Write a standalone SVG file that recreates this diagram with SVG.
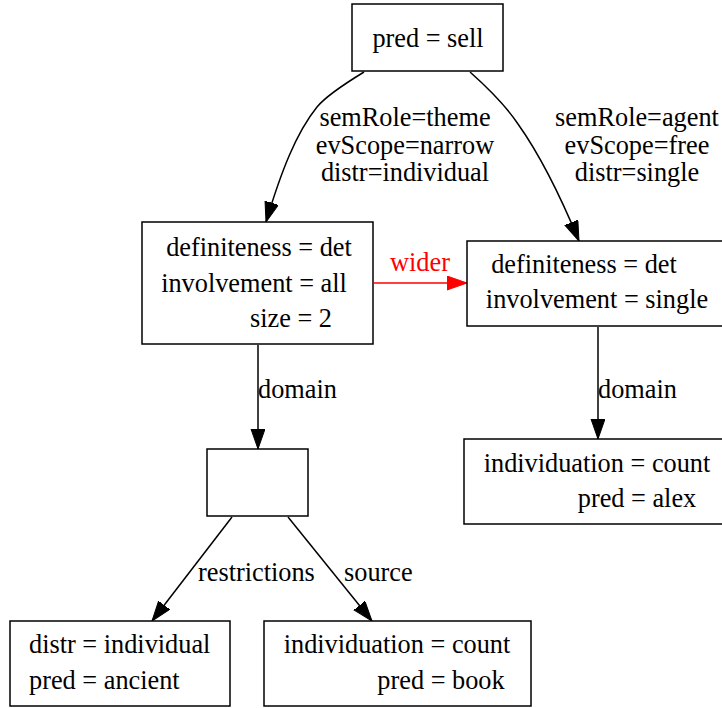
<svg xmlns="http://www.w3.org/2000/svg" width="722" height="708" viewBox="0 0 722 708">
  <style>
    text { font-family: "Liberation Serif", "Times New Roman", serif; font-size: 26.3px; fill: #000; }
    .box { fill: #fff; stroke: #000; stroke-width: 1.5; }
    .edge { fill: none; stroke: #000; stroke-width: 1.5; }
    .red { stroke: #f00; }
    text.lbl-red { fill: #f00; }
    .mid { text-anchor: middle; }
  </style>
  <defs>
    <marker id="arrow" markerUnits="userSpaceOnUse" markerWidth="22" markerHeight="16" refX="20" refY="7" orient="auto">
      <path d="M0,0 L20,7 L0,14 z" fill="#000" stroke="#000" stroke-width="1"/>
    </marker>
    <marker id="arrow-red" markerUnits="userSpaceOnUse" markerWidth="22" markerHeight="16" refX="20" refY="7" orient="auto">
      <path d="M0,0 L20,7 L0,14 z" fill="#f00" stroke="#f00" stroke-width="1"/>
    </marker>
  </defs>
  <rect width="722" height="708" fill="#fff"/>

  <!-- connectors -->
  <g id="edges">
    <path class="edge" d="M364,72 C346,83 326,96 317,107 C296,133 281,172 266,222" marker-end="url(#arrow)"/>
    <text class="mid" x="405" y="126">semRole=theme</text>
    <text class="mid" x="405" y="154">evScope=narrow</text>
    <text class="mid" x="405" y="181">distr=individual</text>

    <path class="edge" d="M470,72 C488,88 506,106 518,124 C540,155 560,195 579,241" marker-end="url(#arrow)"/>
    <text class="mid" x="637" y="126">semRole=agent</text>
    <text class="mid" x="637" y="154">evScope=free</text>
    <text class="mid" x="637" y="181">distr=single</text>

    <path class="edge red" d="M374,283 L467,283" marker-end="url(#arrow-red)"/>
    <text class="mid lbl-red" x="420" y="271">wider</text>

    <path class="edge" d="M258,345 L258,449" marker-end="url(#arrow)"/>
    <text x="258" y="398">domain</text>

    <path class="edge" d="M598,327 L598,439" marker-end="url(#arrow)"/>
    <text x="598" y="398">domain</text>

    <path class="edge" d="M232,517 L152,621" marker-end="url(#arrow)"/>
    <text x="198" y="581">restrictions</text>

    <path class="edge" d="M288,517 L372,621" marker-end="url(#arrow)"/>
    <text x="344" y="581">source</text>
  </g>

  <!-- nodes -->
  <g id="node-sell">
    <rect class="box" x="352" y="4" width="151" height="67"/>
    <text class="mid" x="428" y="47">pred = sell</text>
  </g>

  <g id="node-theme">
    <rect class="box" x="142" y="222" width="231" height="122"/>
    <text class="mid" x="259" y="256">definiteness = det</text>
    <text class="mid" x="254" y="292">involvement = all</text>
    <text class="mid" x="291" y="327">size = 2</text>
  </g>

  <g id="node-agent">
    <rect class="box" x="467" y="241" width="262" height="85"/>
    <text class="mid" x="584" y="273">definiteness = det</text>
    <text class="mid" x="597" y="308">involvement = single</text>
  </g>

  <g id="node-domain">
    <rect class="box" x="207" y="449" width="101" height="67"/>
  </g>

  <g id="node-alex">
    <rect class="box" x="464" y="439" width="265" height="85"/>
    <text class="mid" x="597" y="472">individuation = count</text>
    <text class="mid" x="637" y="507">pred = alex</text>
  </g>

  <g id="node-ancient">
    <rect class="box" x="10" y="621" width="220" height="85"/>
    <text x="29" y="653">distr = individual</text>
    <text x="29" y="689">pred = ancient</text>
  </g>

  <g id="node-book">
    <rect class="box" x="264" y="621" width="267" height="85"/>
    <text class="mid" x="397" y="653">individuation = count</text>
    <text class="mid" x="441" y="689">pred = book</text>
  </g>
</svg>
